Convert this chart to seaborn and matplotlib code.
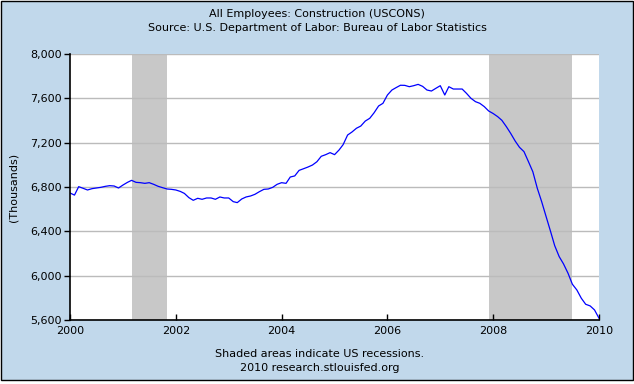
import pandas as pd
import matplotlib
matplotlib.use('Agg')
import matplotlib.pyplot as plt
import matplotlib.dates as mdates
import matplotlib.ticker as mticker
import seaborn as sns

################################################################################

# Monthly values, Jan 2000 .. Jan 2010 (thousands of employees)
employees = [
    6746, 6727, 6803, 6788, 6773, 6785, 6791, 6797, 6806, 6812, 6809, 6791,
    6818, 6842, 6860, 6842, 6839, 6833, 6839, 6824, 6806, 6794, 6782, 6779,
    6773, 6760, 6742, 6704, 6680, 6698, 6689, 6701, 6701, 6689, 6710, 6701,
    6701, 6668, 6659, 6692, 6710, 6719, 6734, 6758, 6779, 6782, 6797, 6824,
    6839, 6833, 6890, 6900, 6950, 6965, 6980, 6998, 7028, 7077, 7092, 7110,
    7092, 7134, 7182, 7269, 7296, 7330, 7350, 7395, 7420, 7470, 7531, 7555,
    7630, 7675, 7696, 7718, 7717, 7705, 7714, 7726, 7708, 7675, 7666, 7690,
    7714, 7630, 7705, 7684, 7684, 7684, 7645, 7600, 7570, 7555, 7525, 7486,
    7463, 7435, 7402, 7345, 7284, 7215, 7158, 7119, 7028, 6938, 6788, 6668,
    6532, 6397, 6271, 6172, 6106, 6022, 5923, 5871, 5796, 5742, 5727, 5691,
    5616,
]
months = pd.date_range('2000-01-01', periods=len(employees), freq='MS')

recession_starts = ['2001-03-01', '2007-12-01']
recession_ends = ['2001-11-01', '2009-06-30']

y_ticks = [5600, 6000, 6400, 6800, 7200, 7600, 8000]
x_tick_years = [2000, 2002, 2004, 2006, 2008, 2010]

title_lines = [
    'All Employees: Construction (USCONS)',
    'Source: U.S. Department of Labor: Bureau of Labor Statistics',
]
footer_lines = [
    'Shaded areas indicate US recessions.',
    '2010 research.stlouisfed.org',
]

################################################################################

sns.set_style('white')
plt.rcParams['font.family'] = ['DejaVu Sans']
plt.rcParams['text.color'] = 'black'
plt.rcParams['xtick.color'] = 'black'
plt.rcParams['ytick.color'] = 'black'
plt.rcParams['axes.labelcolor'] = 'black'

W, H = 634, 384
bg_color = '#C1D8EB'
df = pd.DataFrame({'date': months, 'value': employees})

fig = plt.figure(figsize=(W / 100, H / 100), dpi=100, facecolor='white')

# light blue panel with a thin black frame (ends a few px short of the edges)
fig.patches.append(plt.Rectangle((0.5 / W, 1 - 379.5 / H), 632 / W, 379 / H,
                                 transform=fig.transFigure, facecolor=bg_color,
                                 edgecolor='black', lw=1.0, zorder=-10))

ax = fig.add_axes([70 / W, 1 - 320 / H, 529 / W, 266 / H])
ax.set_facecolor('white')

# recession shading
for start, end in zip(recession_starts, recession_ends):
    ax.axvspan(pd.Timestamp(start), pd.Timestamp(end),
               color='#C8C8C8', lw=0, zorder=1)

sns.lineplot(data=df, x='date', y='value', ax=ax,
             color='#0000FF', lw=0.9, zorder=3)

ax.set_xlim(pd.Timestamp('2000-01-01'), pd.Timestamp('2010-01-01'))
ax.set_ylim(5600, 8000)

ax.set_yticks(y_ticks)
ax.yaxis.set_major_formatter(mticker.FuncFormatter(lambda v, p: f'{int(v):,}'))
ax.set_xticks([pd.Timestamp(f'{y}-01-01') for y in x_tick_years])
ax.xaxis.set_major_formatter(mdates.DateFormatter('%Y'))

ax.grid(axis='y', color='#BBBBBB', lw=1.0, zorder=2)
ax.grid(axis='x', visible=False)
ax.set_axisbelow(False)

for side in ['top', 'right']:
    ax.spines[side].set_visible(False)
for side in ['left', 'bottom']:
    ax.spines[side].set_color('black')
    ax.spines[side].set_linewidth(1.2)
    ax.spines[side].set_zorder(4)

ax.tick_params(axis='y', direction='out', length=4, width=1, color='black',
               labelsize=8, pad=2, left=True)
ax.tick_params(axis='x', direction='in', length=4, width=1, color='black',
               labelsize=8, pad=4, bottom=True)

ax.set_xlabel('')
ax.set_ylabel('(Thousands)', fontsize=8, labelpad=8)

fig.text(0.5, 1 - 14 / H, title_lines[0], ha='center', va='center', fontsize=8)
fig.text(0.5, 1 - 28 / H, title_lines[1], ha='center', va='center', fontsize=8)
fig.text(320 / W, 1 - 354 / H, footer_lines[0], ha='center', va='center', fontsize=8)
fig.text(320 / W, 1 - 368 / H, footer_lines[1], ha='center', va='center', fontsize=8)

fig.savefig('out.png', dpi=100, facecolor='white')
